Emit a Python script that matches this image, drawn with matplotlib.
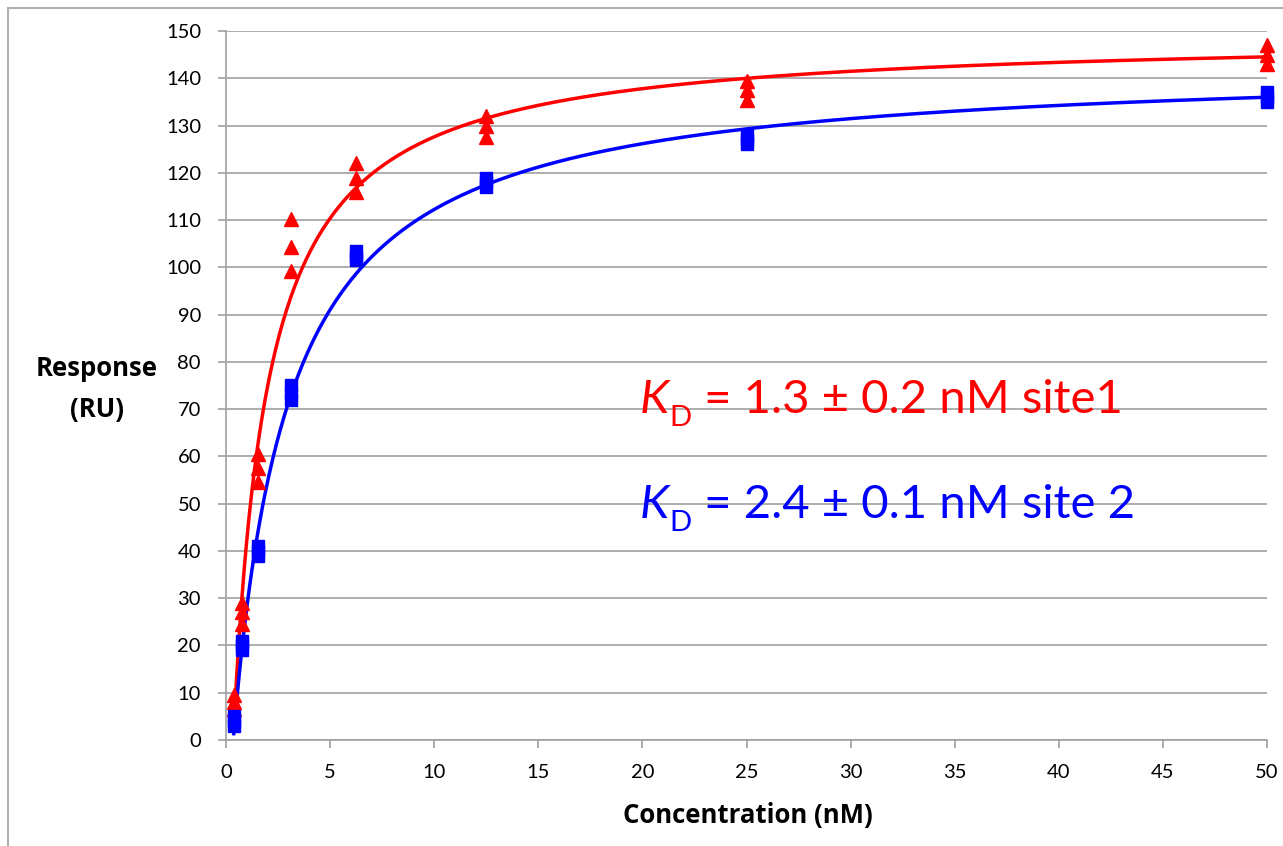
import numpy as np
import matplotlib
matplotlib.use("Agg")
import matplotlib.pyplot as plt
from matplotlib.patches import Rectangle

plt.rcParams['font.family'] = ['Lato', 'DejaVu Sans']

# ---- data ----
conc = [0.39, 0.78, 1.56, 3.125, 6.25, 12.5, 25, 50]
site1_rep1 = [6.5, 24.5, 54.5, 99.2, 116.0, 127.5, 135.5, 143.0]
site1_rep2 = [8.0, 27.0, 57.5, 104.3, 119.0, 130.0, 137.5, 145.0]
site1_rep3 = [9.5, 29.0, 60.5, 110.2, 122.0, 132.0, 139.5, 147.0]
site2_rep1 = [3.0, 19.0, 39.0, 72.0, 101.5, 117.0, 126.0, 135.0]
site2_rep2 = [4.0, 20.0, 40.0, 73.5, 102.5, 118.0, 127.0, 136.0]
site2_rep3 = [5.0, 21.0, 41.0, 75.0, 103.5, 119.0, 128.0, 137.0]

# fitted binding curve parameters (Rmax, K, x offset)
fit1 = dict(rmax=149.3, k=1.64, x0=0.35)
fit2 = dict(rmax=143.3, k=2.67, x0=0.35)

xticks = [0, 5, 10, 15, 20, 25, 30, 35, 40, 45, 50]
yticks = [0, 10, 20, 30, 40, 50, 60, 70, 80, 90, 100, 110, 120, 130, 140, 150]
label1_rest = ' = 1.3 ± 0.2 nM site1'
label2_rest = ' = 2.4 ± 0.1 nM site 2'

RED = '#ff0000'
BLUE = '#0000ff'

fig = plt.figure(figsize=(12.83, 8.46), dpi=100)
W, H = 1283, 846
ax = fig.add_axes([226 / W, 1 - 740 / H, (1267 - 226) / W, (740 - 31) / H])

def model(x, p):
    xs = x - p['x0']
    return p['rmax'] * xs / (p['k'] + xs)

xf = np.linspace(0.375, 50, 800)
ax.plot(xf, model(xf, fit1), color=RED, lw=2.5, zorder=3, clip_on=False)
ax.plot(xf, model(xf, fit2), color=BLUE, lw=2.5, zorder=3, clip_on=False)

for rep in (site1_rep1, site1_rep2, site1_rep3):
    ax.plot(conc, rep, ls='none', marker='^', ms=9.5, color=RED, mec=RED, zorder=4, clip_on=False)
for rep in (site2_rep1, site2_rep2, site2_rep3):
    ax.plot(conc, rep, ls='none', marker='s', ms=8.5, color=BLUE, mec=BLUE, zorder=5, clip_on=False)

ax.set_xlim(0, 50)
ax.set_ylim(0, 150)
ax.set_xticks(xticks)
ax.set_yticks(yticks)
ax.grid(axis='y', color='#a0a0a0', lw=1.2)
ax.set_axisbelow(True)
for s in ('top', 'right'):
    ax.spines[s].set_visible(False)
for s in ('left', 'bottom'):
    ax.spines[s].set_color('#a0a0a0')
    ax.spines[s].set_linewidth(1.2)
ax.tick_params(axis='both', direction='out', length=6, width=1.2, color='#a0a0a0',
               labelsize=14.5, labelcolor='black')
ax.tick_params(axis='y', pad=12)
ax.tick_params(axis='x', pad=11)

lab_font = dict(family=['Open Sans', 'DejaVu Sans'], fontsize=18.5, fontweight='bold')
fig.text(748 / W, 1 - 815 / H, 'Concentration (nM)', ha='center', va='center', **lab_font)
fig.text(97 / W, 1 - 368 / H, 'Response', ha='center', va='center', **lab_font)
fig.text(97 / W, 1 - 410 / H, '(RU)', ha='center', va='center', **lab_font)

renderer = fig.canvas.get_renderer()

def kd_label(x_px, base_px, rest, color):
    big = 34
    t1 = fig.text(x_px / W, 1 - base_px / H, 'K', color=color, fontsize=big, style='italic',
                  ha='left', va='baseline')
    bb = t1.get_window_extent(renderer)
    t2 = fig.text((bb.x1 + 0.5) / W, 1 - (base_px + 13) / H, 'D', color=color, fontsize=big * 0.62,
                  ha='left', va='baseline')
    bb2 = t2.get_window_extent(renderer)
    fig.text((bb2.x1 + 0.5) / W, 1 - base_px / H, rest, color=color, fontsize=big,
             ha='left', va='baseline')

kd_label(640, 413, label1_rest, RED)
kd_label(640, 518, label2_rest, BLUE)

fig.patches.append(Rectangle((8 / W, -0.05), 1.2, 1 - 8 / H + 0.05, transform=fig.transFigure,
                             fill=False, ec='#b0b0b0', lw=1.5))

fig.savefig('out.png', dpi=100)
